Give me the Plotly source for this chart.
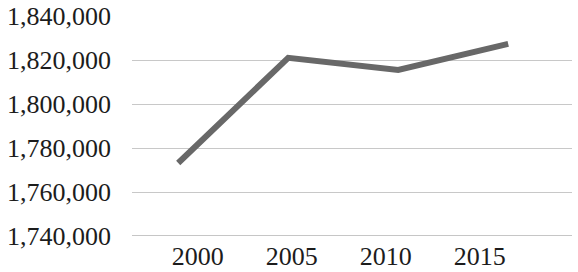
import plotly.graph_objects as go

years = ["2000", "2005", "2010", "2015"]
population = [1773200, 1821000, 1815500, 1827300]
y_ticks = [1740000, 1760000, 1780000, 1800000, 1820000, 1840000]
y_tick_labels = [f"{v:,}" for v in y_ticks]

font_family = "Liberation Serif"

fig = go.Figure()
fig.add_trace(go.Scatter(
    x=years, y=population, mode="lines",
    line=dict(color="#686868", width=6),
    xaxis="x", yaxis="y", showlegend=False, hoverinfo="skip",
))
# Transparent companion trace carrying the category labels axis
fig.add_trace(go.Scatter(
    x=years, y=population, mode="lines",
    line=dict(color="rgba(0,0,0,0)", width=0),
    xaxis="x2", yaxis="y", showlegend=False, hoverinfo="skip",
))

fig.update_layout(
    width=578, height=272,
    margin=dict(l=132, r=6, t=16, b=36),
    paper_bgcolor="white", plot_bgcolor="white",
    font=dict(family=font_family, size=26, color="#1c1c1c"),
    xaxis=dict(
        type="category", range=[-0.42, 3.58], visible=False, automargin=False,
    ),
    xaxis2=dict(
        type="category", range=[-0.70, 3.98], overlaying="x", side="bottom",
        showgrid=False, zeroline=False, showline=False, ticks="",
        ticklabelstandoff=2, automargin=False,
    ),
    yaxis=dict(
        range=[1740000, 1840000], tickmode="array",
        tickvals=y_ticks, ticktext=y_tick_labels,
        showgrid=True, gridcolor="#c8c8c8", gridwidth=1,
        zeroline=False, showline=False, ticks="",
        ticklabelstandoff=20, automargin=False,
    ),
    shapes=[dict(
        type="line", xref="paper", yref="y", x0=0, x1=1,
        y0=y_ticks[0], y1=y_ticks[0], line=dict(color="#8c8c8c", width=1),
    )],
)

fig.write_html(
    "out.html",
    config={"displayModeBar": False, "staticPlot": True},
    post_script="document.body.style.margin='0';document.documentElement.style.margin='0';",
)
